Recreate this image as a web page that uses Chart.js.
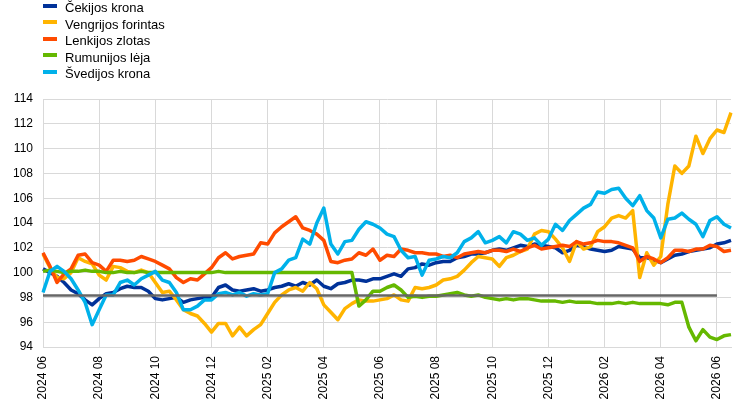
<!DOCTYPE html>
<html>
<head>
<meta charset="utf-8">
<script src="https://cdn.jsdelivr.net/npm/chart.js@4.4.1/dist/chart.umd.min.js"></script>
<style>
  html, body { margin: 0; padding: 0; background: #fff; }
  #wrap { position: relative; width: 745px; height: 407px; }
  #legend { position: absolute; left: 43px; top: 0; font: 13px Arial, "Liberation Sans", sans-serif; color: #000; }
  #legend .row { position: relative; height: 16.6px; line-height: 16.6px; padding-left: 22px; white-space: nowrap; }
  #legend .mark { position: absolute; left: 0; top: 3.7px; width: 14px; height: 4px; }
</style>
</head>
<body>
<div id="wrap">
  <canvas id="fxChart"></canvas>
  <div id="legend"></div>
</div>
<script>
// months on the axis, 4 readings per month (last month only half)
const months = [
  "2024 06", "2024 07", "2024 08", "2024 09", "2024 10", "2024 11", "2024 12",
  "2025 01", "2025 02", "2025 03", "2025 04", "2025 05", "2025 06", "2025 07",
  "2025 08", "2025 09", "2025 10", "2025 11", "2025 12", "2026 01", "2026 02",
  "2026 03", "2026 04", "2026 05", "2026 06",
];

const seriesNames = [
  "Čekijos krona",
  "Vengrijos forintas",
  "Lenkijos zlotas",
  "Rumunijos lėja",
  "Švedijos krona",
];

const czk = [
  100.3, 100.0, 99.7, 99.2,
  98.6, 98.3, 97.8, 97.4,
  97.9, 98.3, 98.4, 98.7,
  98.9, 98.8, 98.8, 98.5,
  97.9, 97.8, 97.9, 98.0,
  97.6, 97.8, 97.9, 98.0,
  98.0, 98.8, 99.0, 98.6,
  98.5, 98.6, 98.7, 98.5,
  98.6, 98.8, 98.9, 99.1,
  98.9, 99.2, 99.0, 99.4,
  98.9, 98.7, 99.1, 99.2,
  99.4, 99.4, 99.3, 99.5,
  99.5, 99.7, 99.9, 99.7,
  100.3, 100.4, 100.7, 100.6,
  100.8, 100.9, 100.9, 101.2,
  101.3, 101.5, 101.5, 101.6,
  101.8, 101.9, 101.8, 102.0,
  102.2, 102.1, 102.3, 102.2,
  102.1, 102.0, 101.6, 101.8,
  102.2, 102.1, 101.9, 101.8,
  101.7, 101.8, 102.1, 102.0,
  101.9, 101.2, 101.2, 101.0,
  100.8, 101.1, 101.4, 101.5,
  101.7, 101.8, 101.9, 102.0,
  102.3, 102.4, 102.6,
];

const huf = [
  101.5, 100.4, 99.6, 99.5,
  100.0, 101.2, 100.9, 100.7,
  99.8, 99.4, 100.5, 100.4,
  100.1, 100.0, 100.2, 100.0,
  99.2, 98.4, 98.5, 97.8,
  97.0, 96.7, 96.5, 95.9,
  95.2, 95.9, 95.9, 94.9,
  95.6, 94.9, 95.4, 95.8,
  96.7, 97.6, 98.2, 98.6,
  98.8, 98.5, 99.2, 98.7,
  97.4, 96.8, 96.2, 97.1,
  97.5, 97.8, 97.7, 97.7,
  97.8, 97.9, 98.2, 97.8,
  97.7, 98.8, 98.7, 98.8,
  99.0, 99.4, 99.5, 99.7,
  100.2, 100.8, 101.3, 101.2,
  101.1, 100.5, 101.2, 101.4,
  101.7, 101.9, 103.1, 103.4,
  103.3, 102.7, 102.0, 100.9,
  102.5, 101.9, 102.1, 103.3,
  103.7, 104.4, 104.6, 104.4,
  105.0, 99.6, 101.6, 100.6,
  101.3, 105.5, 108.6, 108.0,
  108.6, 111.0, 109.6, 110.8,
  111.5, 111.3, 112.9,
];

const pln = [
  101.6, 100.5, 99.2, 99.9,
  100.3, 101.4, 101.5, 100.8,
  100.6, 100.1, 101.0, 101.0,
  100.9, 101.0, 101.3, 101.1,
  100.9, 100.6, 100.3, 99.6,
  99.2, 99.5, 99.4, 99.9,
  100.4, 101.2, 101.6, 101.1,
  101.3, 101.4, 101.5, 102.4,
  102.3, 103.2, 103.7, 104.1,
  104.5, 103.6, 103.4, 103.1,
  102.6, 100.9, 100.8, 101.0,
  101.1, 101.6, 101.4, 101.9,
  101.0, 101.4, 101.3, 101.9,
  101.8, 101.6, 101.6, 101.5,
  101.5, 101.3, 101.4, 101.2,
  101.5, 101.6, 101.7, 101.6,
  101.8, 101.8, 101.7, 101.9,
  101.7, 102.0, 102.2, 101.9,
  102.0, 102.1, 102.2, 102.1,
  102.5, 102.3, 102.4, 102.6,
  102.5, 102.5, 102.4, 102.2,
  102.0, 100.9, 101.3, 101.1,
  100.8, 101.2, 101.8, 101.8,
  101.7, 101.9, 101.9, 102.2,
  102.1, 101.7, 101.8,
];

const ron = [
  100.1, 100.2, 100.1, 100.0,
  100.1, 100.1, 100.2, 100.1,
  100.1, 100.0, 100.0, 100.1,
  100.0, 100.0, 100.1, 100.0,
  100.0, 100.0, 100.0, 100.0,
  100.0, 100.0, 100.0, 100.0,
  100.0, 100.1, 100.0, 100.0,
  100.0, 100.0, 100.0, 100.0,
  100.0, 100.0, 100.0, 100.0,
  100.0, 100.0, 100.0, 100.0,
  100.0, 100.0, 100.0, 100.0,
  100.0, 97.3, 97.8, 98.5,
  98.5, 98.8, 99.0, 98.6,
  98.0, 98.1, 98.0, 98.1,
  98.1, 98.2, 98.3, 98.4,
  98.2, 98.1, 98.2, 98.0,
  97.9, 97.8, 97.9, 97.8,
  97.9, 97.9, 97.8, 97.7,
  97.7, 97.7, 97.6, 97.7,
  97.6, 97.6, 97.6, 97.5,
  97.5, 97.5, 97.6, 97.5,
  97.6, 97.5, 97.5, 97.5,
  97.5, 97.4, 97.6, 97.6,
  95.6, 94.5, 95.4, 94.8,
  94.6, 94.9, 95.0,
];

const sek = [
  98.4, 100.1, 100.5, 100.1,
  99.5, 98.6, 97.6, 95.8,
  97.0, 98.2, 98.2, 99.2,
  99.4, 99.0, 99.5, 99.8,
  100.1, 99.4, 99.2, 98.4,
  97.0, 97.0, 97.3, 97.8,
  97.8, 98.3, 98.4, 98.2,
  98.4, 98.1, 98.3, 98.2,
  98.3, 100.0, 100.3, 101.0,
  101.2, 102.7, 102.3, 104.0,
  105.2, 102.3, 101.5, 102.5,
  102.6, 103.5, 104.1, 103.9,
  103.6, 103.1, 102.9, 101.8,
  101.2, 101.3, 99.8, 101.0,
  101.1, 101.3, 101.2, 101.6,
  102.5, 102.8, 103.3, 102.4,
  102.6, 102.9, 102.4, 103.3,
  103.1, 102.6, 102.8, 102.2,
  102.7, 103.9, 103.4, 104.2,
  104.7, 105.2, 105.5, 106.5,
  106.4, 106.7, 106.8, 106.0,
  105.4, 106.2, 105.0, 104.4,
  102.8, 104.3, 104.4, 104.8,
  104.3, 103.9, 102.9, 104.2,
  104.5, 103.9, 103.6,
];

// horizontal reference level, drawn up to 2026 06
const refLevel = 98.15;
const refEnd = "2026 06";

const colors = ["#003299", "#FFB400", "#FF4B00", "#65B800", "#00B1EA"];

const labels = [];
months.forEach(function (m, i) {
  const n = i === months.length - 1 ? 3 : 4;
  for (let w = 1; w <= n; w++) labels.push(m + " " + w);
});
const refLine = labels.map(function (l) {
  return l.slice(0, 7) < refEnd || l === refEnd + " 1" ? refLevel : null;
});

Chart.defaults.font.family = 'Arial, "Liberation Sans", sans-serif';
Chart.defaults.font.size = 12;
Chart.defaults.color = "#000";

const allSeries = [czk, huf, pln, ron, sek];
const datasets = allSeries.map(function (data, i) {
  return {
    label: seriesNames[i],
    data: data,
    borderColor: colors[i],
    backgroundColor: colors[i],
    borderWidth: 3.5,
    pointRadius: 0,
    tension: 0,
    borderJoinStyle: "round",
    order: 5 - i,
  };
});
datasets.push({
  label: "ref",
  data: refLine,
  borderColor: "#666666",
  borderWidth: 2.5,
  pointRadius: 0,
  order: 0,
});

const ctx = document.getElementById("fxChart").getContext("2d");
const fxChart = new Chart(ctx, {
  type: "line",
  data: { labels: labels, datasets: datasets },
  options: {
    responsive: true,
    maintainAspectRatio: false,
    animation: false,
    layout: { padding: { top: 99, right: 14, left: 0, bottom: 0 } },
    plugins: {
      legend: { display: false },
      tooltip: { enabled: false },
    },
    scales: {
      x: {
        type: "category",
        offset: false,
        afterFit: function (s) { s.height = 60; },
        grid: { color: "#d9d9d9", drawTicks: false },
        border: { color: "#d9d9d9" },
        ticks: {
          autoSkip: false,
          minRotation: 90,
          maxRotation: 90,
          padding: 9,
          callback: function (value, index) {
            return index % 8 === 0 ? this.getLabelForValue(value).slice(0, 7) : null;
          },
        },
      },
      y: {
        min: 94,
        max: 114,
        afterFit: function (s) { s.width = 43; },
        grid: { color: "#d9d9d9", drawTicks: false },
        border: { color: "#d9d9d9" },
        ticks: { stepSize: 2, padding: 10 },
      },
    },
  },
});

// legend as html, one row per currency
const legend = document.getElementById("legend");
fxChart.data.datasets.slice(0, 5).forEach(function (ds) {
  const row = document.createElement("div");
  row.className = "row";
  const mark = document.createElement("span");
  mark.className = "mark";
  mark.style.background = ds.borderColor;
  row.appendChild(mark);
  row.appendChild(document.createTextNode(ds.label));
  legend.appendChild(row);
});
</script>
</body>
</html>
